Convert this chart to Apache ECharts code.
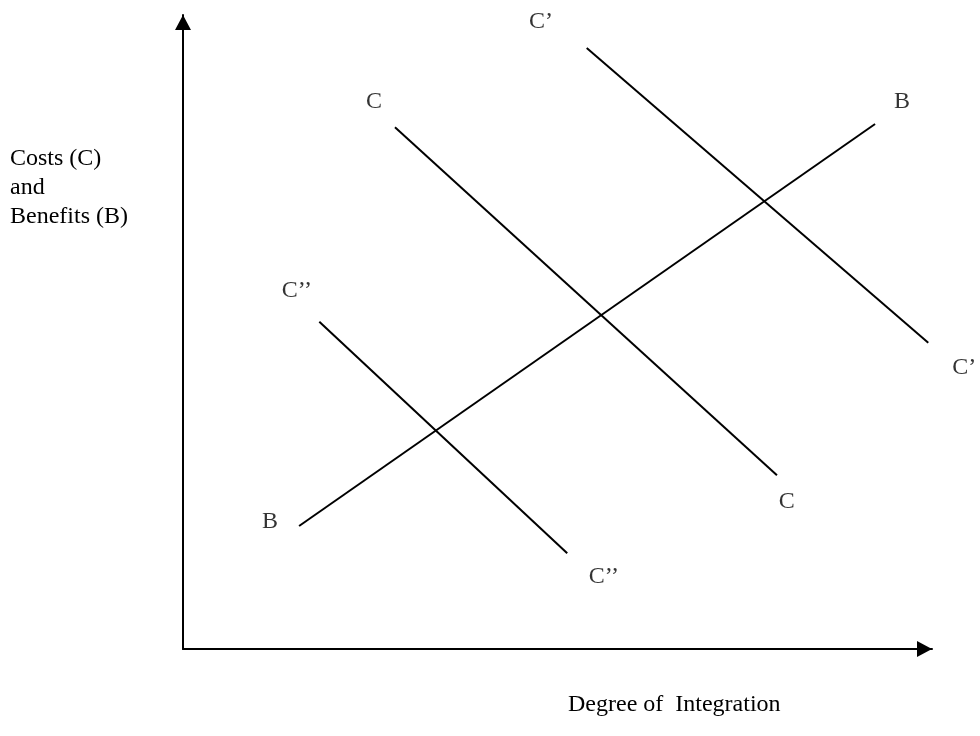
<!DOCTYPE html>
<html>
<head>
<meta charset="utf-8">
<title>Costs and Benefits of Integration</title>
<script src="https://cdn.jsdelivr.net/npm/echarts@6/dist/echarts.min.js"></script>
<style>
  html, body { margin: 0; padding: 0; background: #fff; }
  #main { width: 980px; height: 736px; }
</style>
</head>
<body>
<div id="main"></div>
<script>
// endpoints of each schedule, in a 0-100 space (degree of integration, cost/benefit)
var lineB = [[15.5, 19.4], [92.4, 82.8]];
var lineC = [[28.3, 82.3], [79.3, 27.4]];
var lineC1 = [[53.9, 94.8], [99.5, 48.3]];   // C'
var lineC2 = [[18.2, 51.6], [51.3, 15.1]];   // C''

// curve labels: [x, y, text]
var curveLabels = [
  [47.8, 98.9, 'C\u2019'],
  [25.5, 86.4, 'C'],
  [96.0, 86.4, 'B'],
  [15.2, 56.5, 'C\u2019\u2019'],
  [104.3, 44.4, 'C\u2019'],
  [80.6, 23.3, 'C'],
  [11.6, 20.1, 'B'],
  [56.2, 11.4, 'C\u2019\u2019']
];

var yTitle = 'Costs (C)\nand\nBenefits (B)';
var xTitle = 'Degree of  Integration';

var serif = '"Liberation Serif", "DejaVu Serif", serif';
var chart = echarts.init(document.getElementById('main'));

function segment(name, pts) {
  return {
    name: name,
    type: 'line',
    data: pts,
    symbol: 'none',
    silent: true,
    lineStyle: { color: '#000', width: 2 }
  };
}

var axisBase = {
  type: 'value',
  min: 0,
  max: 100,
  splitLine: { show: false },
  axisTick: { show: false },
  axisLabel: { show: false }
};

var arrowLine = {
  show: true,
  lineStyle: { color: '#000', width: 2 },
  symbol: ['none', 'triangle'],
  symbolSize: [16, 15],
  symbolOffset: [0, -7.5]
};

chart.setOption({
  animation: false,
  backgroundColor: '#fff',
  grid: { left: 183, right: 48, top: 15, bottom: 87 },
  xAxis: Object.assign({}, axisBase, { axisLine: arrowLine }),
  yAxis: Object.assign({}, axisBase, { axisLine: arrowLine }),
  graphic: [
    {
      type: 'text', left: 10, top: 144,
      style: { text: yTitle, font: '24px ' + serif, lineHeight: 29, fill: '#000' }
    },
    {
      type: 'text', left: 568, top: 693,
      style: { text: xTitle, font: '24px ' + serif, fill: '#000' }
    }
  ],
  series: [
    segment('B', lineB),
    segment('C', lineC),
    segment('C\u2019', lineC1),
    segment('C\u2019\u2019', lineC2),
    {
      name: 'labels',
      type: 'scatter',
      clip: false,
      silent: true,
      symbolSize: 0,
      data: curveLabels,
      label: {
        show: true,
        position: 'inside',
        formatter: function (p) { return p.data[2]; },
        color: '#000',
        textBorderWidth: 0,
        fontFamily: serif,
        fontSize: 24
      }
    }
  ]
});
</script>
</body>
</html>
